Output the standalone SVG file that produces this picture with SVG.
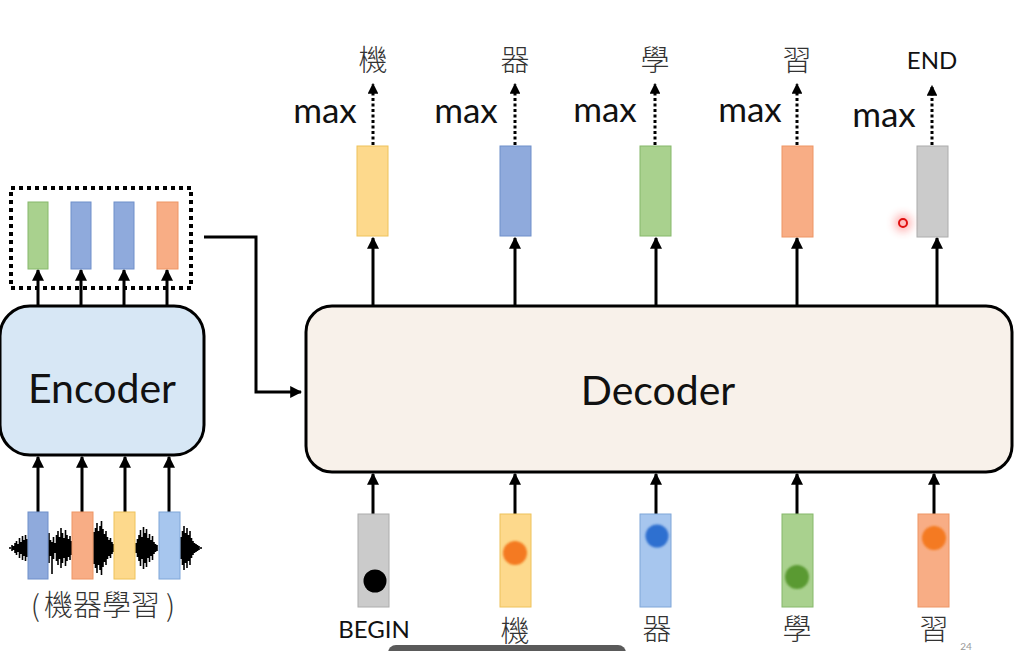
<svg xmlns="http://www.w3.org/2000/svg" width="1015" height="651" viewBox="0 0 1015 651">
<defs>
<marker id="ah" viewBox="0 0 10 10" refX="9" refY="5" markerWidth="4" markerHeight="4" orient="auto" markerUnits="strokeWidth"><path d="M0,0 L10,5 L0,10 z" fill="#000"/></marker>
<marker id="ahs" viewBox="0 0 10 10" refX="9" refY="5" markerWidth="3.6" markerHeight="3.6" orient="auto" markerUnits="strokeWidth"><path d="M0,0 L10,5 L0,10 z" fill="#000"/></marker>
<filter id="blur" x="-50%" y="-50%" width="200%" height="200%"><feGaussianBlur stdDeviation="0.8"/></filter>
<filter id="glow" x="-100%" y="-100%" width="300%" height="300%"><feGaussianBlur stdDeviation="4"/></filter>
</defs>
<style>
.y{fill:#fdd98c;stroke:#eec25a;stroke-width:1}
.b{fill:#8faadc;stroke:#6f8fca;stroke-width:1}
.lb{fill:#a7c6ee;stroke:#7fa6d8;stroke-width:1}
.g{fill:#a9d18e;stroke:#86b86a;stroke-width:1}
.o{fill:#f8ad85;stroke:#ee9565;stroke-width:1}
.gr{fill:#cbcbcb;stroke:#acacac;stroke-width:1}
.ar{stroke:#000;stroke-width:3;fill:none;marker-end:url(#ah)}
.dt{stroke:#000;stroke-width:3;fill:none;stroke-dasharray:3 2.5;marker-end:url(#ahs)}
.big{font-family:Lato,"Open Sans","Noto Sans",sans-serif;font-size:41px;fill:#111}
.mx{font-family:Lato,"Open Sans","Noto Sans",sans-serif;font-size:35px;fill:#111}
.lat{font-family:Lato,"Open Sans","Noto Sans",sans-serif;font-size:24px;fill:#111}
.cjk{font-family:"Noto Sans CJK TC","Noto Sans",sans-serif;font-size:29px;fill:#333;font-weight:300}
</style>
<rect width="1015" height="651" fill="#fff"/>

<g id="connectors">
<line class="ar" x1="38" y1="512" x2="38" y2="457"/>
<line class="ar" x1="82" y1="512" x2="82" y2="457"/>
<line class="ar" x1="125" y1="512" x2="125" y2="457"/>
<line class="ar" x1="169" y1="512" x2="169" y2="457"/>
<line class="ar" x1="38" y1="306" x2="38" y2="270"/>
<line class="ar" x1="81" y1="306" x2="81" y2="270"/>
<line class="ar" x1="124" y1="306" x2="124" y2="270"/>
<line class="ar" x1="167" y1="306" x2="167" y2="270"/>
<path class="ar" d="M204,237 H256 V392 H301"/>
<line class="ar" x1="373" y1="306" x2="373" y2="238"/>
<line class="ar" x1="515" y1="306" x2="515" y2="238"/>
<line class="ar" x1="656" y1="306" x2="656" y2="238"/>
<line class="ar" x1="797" y1="306" x2="797" y2="238"/>
<line class="ar" x1="937" y1="306" x2="937" y2="238"/>
<line class="ar" x1="373" y1="514" x2="373" y2="474"/>
<line class="ar" x1="515" y1="514" x2="515" y2="474"/>
<line class="ar" x1="656" y1="514" x2="656" y2="474"/>
<line class="ar" x1="797" y1="514" x2="797" y2="474"/>
<line class="ar" x1="934" y1="514" x2="934" y2="474"/>
<line class="dt" x1="373" y1="145" x2="373" y2="84"/>
<line class="dt" x1="515" y1="145" x2="515" y2="84"/>
<line class="dt" x1="655" y1="145" x2="655" y2="84"/>
<line class="dt" x1="797" y1="145" x2="797" y2="84"/>
<line class="dt" x1="932" y1="145" x2="932" y2="86"/>
</g>

<g id="waveform">
<path stroke="#000" stroke-width="1.6" fill="none" d="M10,547V549 M12,545V551 M13.5,546V550 M15,543V553 M16.5,541V555 M18,544V552 M19.5,538V558 M21,542V554 M22.5,536V560 M24,540V556 M25.5,535V561 M27,539V557 M49,533V563 M50.5,540V556 M52,542V574 M53.5,537V559 M55,543V553 M56.5,535V561 M58,531V565 M59.5,537V559 M61,528V568 M62.5,533V563 M64,538V558 M65.5,530V566 M67,535V561 M68.5,539V557 M70,536V560 M71.5,541V555 M94,532V564 M95.5,528V568 M97,523V573 M98.5,531V565 M100,526V570 M101.5,521V575 M103,529V567 M104.5,534V562 M106,531V565 M107.5,537V559 M109,540V556 M110.5,538V558 M112,542V554 M113.5,544V552 M136,543V553 M137.5,539V557 M139,535V561 M140.5,530V566 M142,537V559 M143.5,527V569 M145,533V563 M146.5,529V567 M148,538V558 M149.5,534V562 M151,540V556 M152.5,536V560 M154,542V554 M155.5,544V552 M157,545V551 M181,537V559 M182.5,531V565 M184,526V570 M185.5,533V563 M187,528V568 M188.5,535V561 M190,531V565 M191.5,538V558 M193,541V555 M194.5,543V553 M196,544V552 M197.5,545V551 M199,546V550 M201,547V549"/>
</g>

<g id="encoder-inputs">
<rect class="b" x="28" y="512" width="20" height="67"/>
<rect class="o" x="72" y="512" width="21" height="67"/>
<rect class="y" x="114" y="512" width="21" height="67"/>
<rect class="lb" x="159" y="512" width="21" height="67"/>
<text class="cjk" x="103" y="616" text-anchor="middle">(<tspan dx="4">機器學習</tspan><tspan dx="6">)</tspan></text>
</g>

<g id="encoder">
<rect x="0" y="306" width="204" height="149" rx="30" fill="#d7e7f5" stroke="#000" stroke-width="3"/>
<text class="big" x="102" y="403" text-anchor="middle">Encoder</text>
</g>

<g id="encoder-outputs">
<rect x="11" y="188" width="180" height="100" fill="none" stroke="#000" stroke-width="4" stroke-dasharray="4 4"/>
<rect class="g" x="28" y="202" width="20" height="67"/>
<rect class="b" x="71" y="202" width="20" height="67"/>
<rect class="b" x="114" y="202" width="20" height="67"/>
<rect class="o" x="157" y="202" width="21" height="67"/>
</g>

<g id="decoder">
<rect x="306" y="306" width="706" height="166" rx="26" fill="#f8f1ea" stroke="#000" stroke-width="3"/>
<text class="big" x="658" y="405" text-anchor="middle">Decoder</text>
</g>

<g id="decoder-outputs">
<rect class="y" x="357" y="146" width="31" height="90"/>
<rect class="b" x="500" y="146" width="31" height="90"/>
<rect class="g" x="640" y="146" width="31" height="90"/>
<rect class="o" x="782" y="146" width="31" height="91"/>
<rect class="gr" x="917" y="146" width="31" height="91"/>
<text class="mx" x="325" y="123" text-anchor="middle">max</text>
<text class="mx" x="466" y="123" text-anchor="middle">max</text>
<text class="mx" x="605" y="122" text-anchor="middle">max</text>
<text class="mx" x="750" y="122" text-anchor="middle">max</text>
<text class="mx" x="884" y="127" text-anchor="middle">max</text>
<text class="cjk" x="373" y="71" text-anchor="middle">機</text>
<text class="cjk" x="515" y="71" text-anchor="middle">器</text>
<text class="cjk" x="655" y="71" text-anchor="middle">學</text>
<text class="cjk" x="797" y="71" text-anchor="middle">習</text>
<text class="lat" x="932" y="69" text-anchor="middle">END</text>
</g>

<g id="decoder-inputs">
<rect class="gr" x="358" y="514" width="31" height="93"/>
<rect class="y" x="500" y="514" width="31" height="93"/>
<rect class="lb" x="640" y="514" width="31" height="93"/>
<rect class="g" x="782" y="514" width="31" height="93"/>
<rect class="o" x="918" y="514" width="31" height="93"/>
<circle cx="375" cy="581" r="11.5" fill="#000"/>
<circle cx="515" cy="553" r="12" fill="#f47a20" filter="url(#blur)"/>
<circle cx="657" cy="536" r="11.5" fill="#2f6fd0" filter="url(#blur)"/>
<circle cx="797" cy="577" r="12" fill="#5a9a32" filter="url(#blur)"/>
<circle cx="934" cy="538" r="12" fill="#f47a20" filter="url(#blur)"/>
<text class="lat" x="374" y="638" text-anchor="middle">BEGIN</text>
<text class="cjk" x="515" y="642" text-anchor="middle">機</text>
<text class="cjk" x="657" y="640" text-anchor="middle">器</text>
<text class="cjk" x="797" y="640" text-anchor="middle">學</text>
<text class="cjk" x="934" y="640" text-anchor="middle">習</text>
</g>

<g id="overlay">
<circle cx="903" cy="223" r="9" fill="#ff3030" opacity="0.35" filter="url(#glow)"/>
<circle cx="903" cy="223" r="4" fill="none" stroke="#e01010" stroke-width="2"/>
<rect x="388" y="645" width="238" height="20" rx="8" fill="#5a5a5a"/>
<text x="966" y="650" font-family="Lato,sans-serif" font-size="10" fill="#999" text-anchor="middle">24</text>
</g>
</svg>
